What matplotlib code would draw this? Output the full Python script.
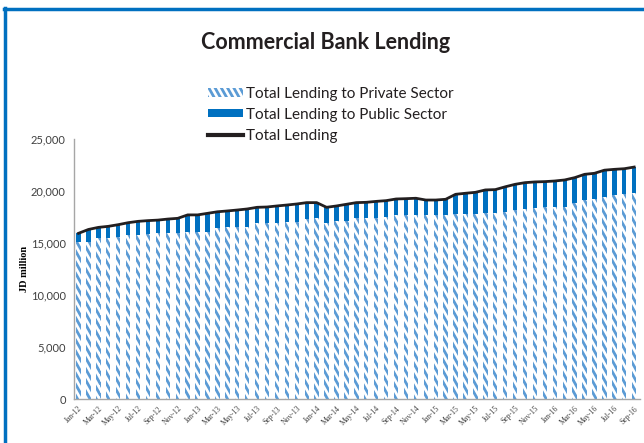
import matplotlib
matplotlib.use("Agg")
import matplotlib.pyplot as plt
import matplotlib.hatch as mhatch
from matplotlib.path import Path
from matplotlib.patches import Patch
from matplotlib.lines import Line2D
from matplotlib.ticker import FuncFormatter
import numpy as np

# monthly lending, JD million (Jan-12 .. Sep-16)
months = ["Jan", "Feb", "Mar", "Apr", "May", "Jun",
          "Jul", "Aug", "Sep", "Oct", "Nov", "Dec"]
periods = [m + "-" + str(y) for y in range(12, 17) for m in months][:57]

private = [15130, 15130, 15450, 15450, 15550, 15770, 15770, 15870, 15930, 15930, 16000, 16090,
           16090, 16090, 16410, 16570, 16570, 16570, 16890, 16890, 16950, 17050, 17050,
           17280, 17370, 16950, 17150, 17150, 17370, 17370, 17370, 17470, 17690, 17690, 17690,
           17690, 17690, 17690, 17790, 17790, 17790, 17850, 17850, 18010, 18170, 18240, 18380,
           18490, 18490, 18490, 18880, 19130, 19200, 19450, 19620, 19710, 19780]
public = [800, 1170, 1050, 1150, 1210, 1180, 1310, 1280, 1270, 1370, 1370, 1610,
          1610, 1760, 1590, 1510, 1600, 1700, 1540, 1570, 1610, 1600, 1700,
          1600, 1510, 1480, 1410, 1570, 1510, 1540, 1630, 1600, 1540, 1570, 1610,
          1440, 1440, 1510, 1890, 1990, 2080, 2250, 2280, 2390, 2470, 2560, 2490,
          2410, 2470, 2570, 2400, 2470, 2500, 2550, 2460, 2430, 2520]

total = np.array(private) + np.array(public)


class SteepBackslash(mhatch.HatchPatternBase):
    """Back-slash hatch drawn steeper than 45 degrees."""
    step = 1 / 9      # vertical gap between stripes (per hatch unit)
    slope = 16 / 9    # must be a multiple of step so the tile repeats

    def __init__(self, hatch, density):
        if "\\" in hatch:
            n = int(round((1 + self.slope) / self.step))
            self.offsets = (np.arange(n) + 0.5) * self.step
        else:
            self.offsets = np.array([])
        self.num_vertices = 2 * len(self.offsets)

    def set_vertices_and_codes(self, vertices, codes):
        c = self.offsets
        x0 = np.clip((c - 1) / self.slope, 0, 1)
        x1 = np.clip(c / self.slope, 0, 1)
        vertices[0::2, 0] = x0
        vertices[0::2, 1] = c - self.slope * x0
        vertices[1::2, 0] = x1
        vertices[1::2, 1] = c - self.slope * x1
        codes[0::2] = Path.MOVETO
        codes[1::2] = Path.LINETO


mhatch._hatch_types = [h for h in mhatch._hatch_types
                       if h.__name__ != "SouthEastHatch"] + [SteepBackslash]

blue = "#0070C0"
hatch_blue = "#5B9BD5"
plt.rcParams["hatch.linewidth"] = 2.0

fig = plt.figure(figsize=(6.44, 4.43), dpi=100)
ax = fig.add_axes([0.115, 0.0993, 0.879, 0.587])

x = np.arange(len(periods))
ax.bar(x, private, width=0.44, color="white", edgecolor=hatch_blue,
       linewidth=0, hatch="\\")
ax.bar(x, public, bottom=private, width=0.44, color=blue, linewidth=0)
ax.plot(x, total, color="#231F20", linewidth=2)

ax.set_xlim(-0.45, 56.6)
ax.set_ylim(0, 25000)
ax.set_yticks(range(0, 25001, 5000))
ax.yaxis.set_major_formatter(FuncFormatter(lambda v, p: "{:,.0f}".format(v)))
ax.set_xticks(x[::2])
ax.set_xticklabels(periods[::2], rotation=45, ha="right", va="top",
                   rotation_mode="anchor", fontsize=5.5, family="Liberation Serif",
                   color="#404040")
for lab in ax.get_yticklabels():
    lab.set_family("Lato")
    lab.set_fontsize(8)
    lab.set_color("#404040")
ax.tick_params(length=0, pad=6)
ax.tick_params(axis="x", pad=4)
for s in ["top", "right"]:
    ax.spines[s].set_visible(False)
for s in ["left", "bottom"]:
    ax.spines[s].set_color("#A6A6A6")
    ax.spines[s].set_linewidth(1)
ax.set_ylabel("JD million", family="Liberation Serif", fontweight="bold",
              fontsize=7.5, labelpad=1.5)

fig.text(0.506, 0.903, "Commercial Bank Lending", ha="center", va="center",
         family="Lato", fontweight="bold", fontsize=15.5, color="#231F20")

handles = [
    Patch(facecolor="white", edgecolor=hatch_blue, linewidth=0, hatch="\\"),
    Patch(facecolor=blue, linewidth=0),
    Line2D([], [], color="#231F20", linewidth=3),
]
labels = ["Total Lending to Private Sector", "Total Lending to Public Sector",
          "Total Lending"]
fig.legend(handles, labels, loc="upper left", bbox_to_anchor=(0.306, 0.828),
           frameon=False, prop={"family": "Lato", "size": 11},
           handlelength=2.3, handleheight=0.45, handletextpad=0.2,
           labelspacing=0.45, borderpad=0.2, labelcolor="#231F20")

# blue frame along the top and left edges
fig.add_artist(Line2D([0.006, 1.0], [0.98, 0.98], color=blue, linewidth=2.5,
                      transform=fig.transFigure))
fig.add_artist(Line2D([0.008, 0.008], [0.0, 0.982], color=blue, linewidth=2.5,
                      transform=fig.transFigure))

fig.savefig("out.png", dpi=100)
